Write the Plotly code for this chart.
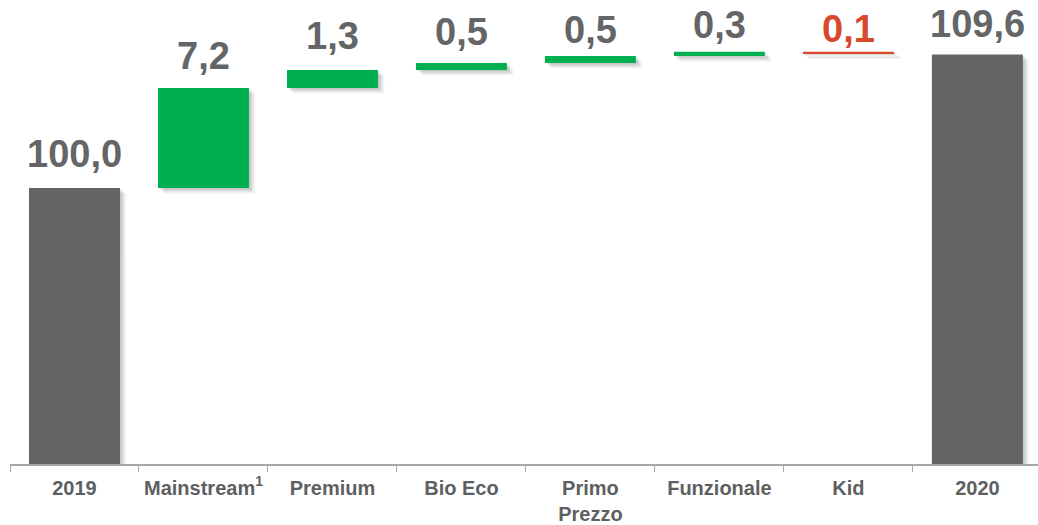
import plotly.graph_objects as go

# Bridge of sales index 2019 -> 2020 by segment
categories = ["2019", "Mainstream<sup>1</sup>", "Premium", "Bio Eco",
              "Primo<br>Prezzo", "Funzionale", "Kid", "2020"]
kinds = ["total", "delta", "delta", "delta", "delta", "delta", "delta", "total"]
values = [100.0, 7.2, 1.3, 0.5, 0.5, 0.3, -0.1, 109.6]
labels = ["100,0", "7,2", "1,3", "0,5", "0,5", "0,3", "0,1", "109,6"]

GREY = "#636466"
GREEN = "#00B050"
RED = "#D9482B"
TEXT = "#646567"
FONT = "Liberation Sans, Arial, sans-serif"

# floating bar geometry: base and height of each step
bases, heights, colors, tops = [], [], [], []
running = 0.0
for kind, v in zip(kinds, values):
    if kind == "total":
        bases.append(0.0)
        heights.append(v)
        running = v
        colors.append(GREY)
        tops.append(v)
    else:
        start = running
        running = running + v
        bases.append(min(start, running))
        heights.append(abs(v))
        colors.append(GREEN if v >= 0 else RED)
        tops.append(max(start, running))

label_colors = [RED if (k == "delta" and v < 0) else TEXT for k, v in zip(kinds, values)]

BAR_W = 0.705
fig = go.Figure()

# soft drop shadow built from a few offset translucent copies
for dx, dy, op in [(0.012, 0.10, 0.10), (0.024, 0.20, 0.09), (0.036, 0.30, 0.07), (0.048, 0.40, 0.05)]:
    fig.add_trace(go.Bar(
        x=categories, y=heights, base=[b - dy for b in bases],
        width=BAR_W, offset=-BAR_W / 2 + dx,
        marker=dict(color="rgba(60,60,60,1)", line=dict(width=0)),
        opacity=op, hoverinfo="skip", showlegend=False,
    ))

fig.add_trace(go.Bar(
    x=categories, y=heights, base=bases,
    width=BAR_W, offset=-BAR_W / 2,
    marker=dict(color=colors, line=dict(width=0)),
    showlegend=False,
))

# value labels, placed by category index so "2019"/"2020" are not read as numbers;
# the labels crowded at the top edge sit a little closer to their bars
label_lift = {1: 9, 3: 8, 4: 3, 5: 4, 6: 0, 7: 8}
for i, (top, lab, col) in enumerate(zip(tops, labels, label_colors)):
    fig.add_annotation(
        x=i, y=top, xref="x", yref="y", text=f"<b>{lab}</b>", showarrow=False,
        yanchor="bottom", yshift=label_lift.get(i, 11),
        font=dict(family=FONT, size=38, color=col),
    )

fig.update_layout(
    width=1038, height=525,
    margin=dict(l=10, r=0, t=0, b=61, autoexpand=False),
    paper_bgcolor="white", plot_bgcolor="white",
    barmode="overlay",
    font=dict(family=FONT),
)
fig.update_xaxes(
    type="category", range=[-0.5, 7.47],
    showline=True, linecolor="#A6A6A6", linewidth=1.5,
    ticks="outside", tickson="boundaries", ticklen=6, tickcolor="#A6A6A6",
    ticklabelstandoff=5, tickangle=0, automargin=False,
    tickfont=dict(size=20, color="#5E5F61", family=FONT),
    tickprefix="<b>", ticksuffix="</b>",
    showgrid=False, zeroline=False,
)
fig.update_yaxes(range=[80.13, 113.53], visible=False, showgrid=False, zeroline=False)

fig.write_html("out.html")
